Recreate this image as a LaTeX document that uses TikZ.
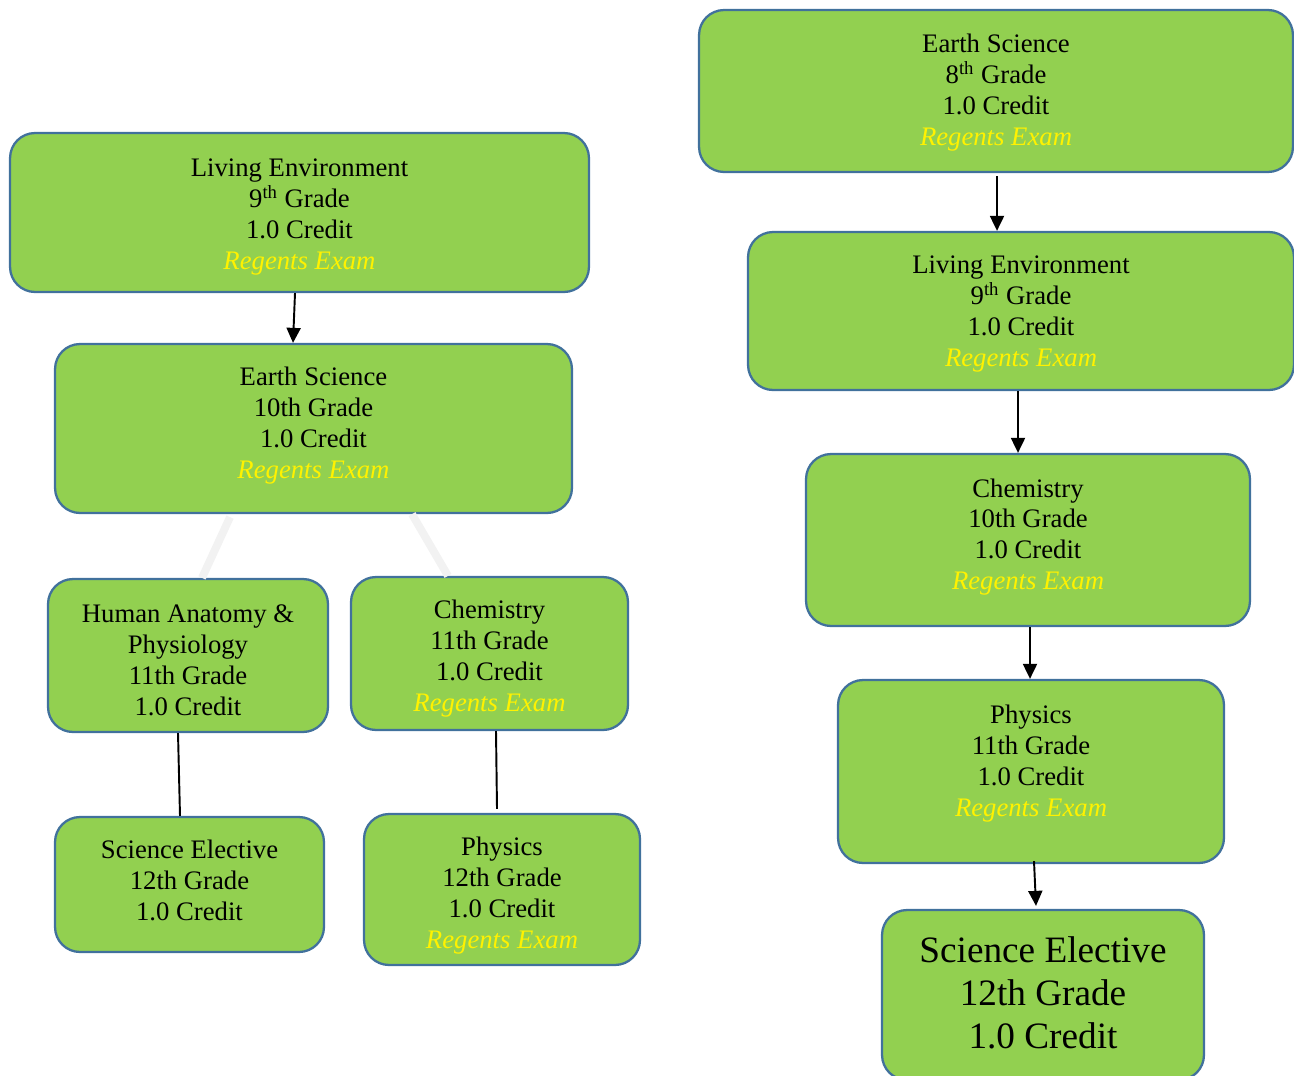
\documentclass[tikz,border=0pt]{standalone}
\usepackage{fontspec}
\setmainfont{Liberation Serif}
\usetikzlibrary{arrows.meta}
\definecolor{leaf}{HTML}{92D050}
\definecolor{rim}{HTML}{41719C}
\definecolor{fade}{HTML}{F2F2F2}
\newcommand{\regents}{\textcolor{yellow}{\itshape Regents Exam}}
\begin{document}
\begin{tikzpicture}[x=0.02cm, y=-0.02cm,
    course/.style={draw=rim, fill=leaf, line width=1.3pt, rounded corners=0.5cm, align=center, inner sep=2pt, font=\fontsize{15.2}{17.6}\selectfont},
    bigcourse/.style={course, font=\fontsize{21.2}{24.4}\selectfont},
    flow/.style={-{Triangle[length=0.3cm, width=0.28cm]}, line width=1.1pt, black},
    tie/.style={line width=1.1pt, black},
    soft/.style={line width=4.5pt, fade}]
    \useasboundingbox (0,0) rectangle (1294,1075);
    % left track
    \node[course, minimum width=11.58cm, minimum height=3.18cm, text height=64.9pt, text depth=0pt] (life9) at (299.5,212.5) {Living Environment\\9\textsuperscript{th} Grade\\1.0 Credit\\\regents};
    \node[course, minimum width=10.34cm, minimum height=3.38cm, text depth=6.7pt] (earth10) at (313.5,428.5) {Earth Science\\10th Grade\\1.0 Credit\\\regents};
    \node[course, minimum width=5.6cm, minimum height=3.06cm, text height=68.1pt, text depth=0pt] (anat11) at (188,655.5) {Human Anatomy \&\\Physiology\\11th Grade\\1.0 Credit};
    \node[course, minimum width=5.54cm, minimum height=3.06cm, text height=66.3pt, text depth=0pt] (chem11) at (489.5,653.5) {Chemistry\\11th Grade\\1.0 Credit\\\regents};
    \node[course, minimum width=5.38cm, minimum height=2.7cm, text depth=4.5pt] (elect12) at (189.5,884.5) {Science Elective\\12th Grade\\1.0 Credit};
    \node[course, minimum width=5.52cm, minimum height=3.02cm, text height=66.9pt, text depth=0pt] (phys12) at (502,889.5) {Physics\\12th Grade\\1.0 Credit\\\regents};
    % right track
    \node[course, minimum width=11.88cm, minimum height=3.24cm, text depth=1.6pt] (earth8) at (996,91) {Earth Science\\8\textsuperscript{th} Grade\\1.0 Credit\\\regents};
    \node[course, minimum width=10.92cm, minimum height=3.16cm, text depth=0pt] (life9r) at (1021,311) {Living Environment\\9\textsuperscript{th} Grade\\1.0 Credit\\\regents};
    \node[course, minimum width=8.88cm, minimum height=3.44cm, text depth=6.7pt] (chem10) at (1028,540) {Chemistry\\10th Grade\\1.0 Credit\\\regents};
    \node[course, minimum width=7.72cm, minimum height=3.66cm, text depth=12pt] (phys11) at (1031,771.5) {Physics\\11th Grade\\1.0 Credit\\\regents};
    \node[bigcourse, minimum width=6.44cm, minimum height=3.4cm, text depth=2.4pt] (elect12r) at (1043,995) {Science Elective\\12th Grade\\1.0 Credit};
    % links
    \draw[flow] ([xshift=-0.09cm]life9.south) -- ([xshift=-0.41cm]earth10.north);
    \draw[soft] ([xshift=-1.67cm, yshift=-0.06cm]earth10.south) -- ([xshift=0.28cm]anat11.north);
    \draw[soft] ([xshift=1.97cm]earth10.south) -- ([xshift=-0.83cm]chem11.north);
    \draw[tie] ([xshift=-0.2cm]anat11.south) -- ([xshift=-0.19cm]elect12.north);
    \draw[tie] ([xshift=0.13cm]chem11.south) -- ([xshift=-0.1cm, yshift=0.08cm]phys12.north);
    \draw[flow] ([xshift=0.02cm, yshift=-0.06cm]earth8.south) -- ([xshift=-0.48cm]life9r.north);
    \draw[flow] ([xshift=-0.06cm]life9r.south) -- ([xshift=-0.2cm]chem10.north);
    \draw[flow] ([xshift=0.04cm]chem10.south) -- ([xshift=-0.02cm]phys11.north);
    \draw[flow] ([xshift=0.06cm, yshift=0.06cm]phys11.south) -- ([xshift=-0.14cm, yshift=0.06cm]elect12r.north);
\end{tikzpicture}
\end{document}
